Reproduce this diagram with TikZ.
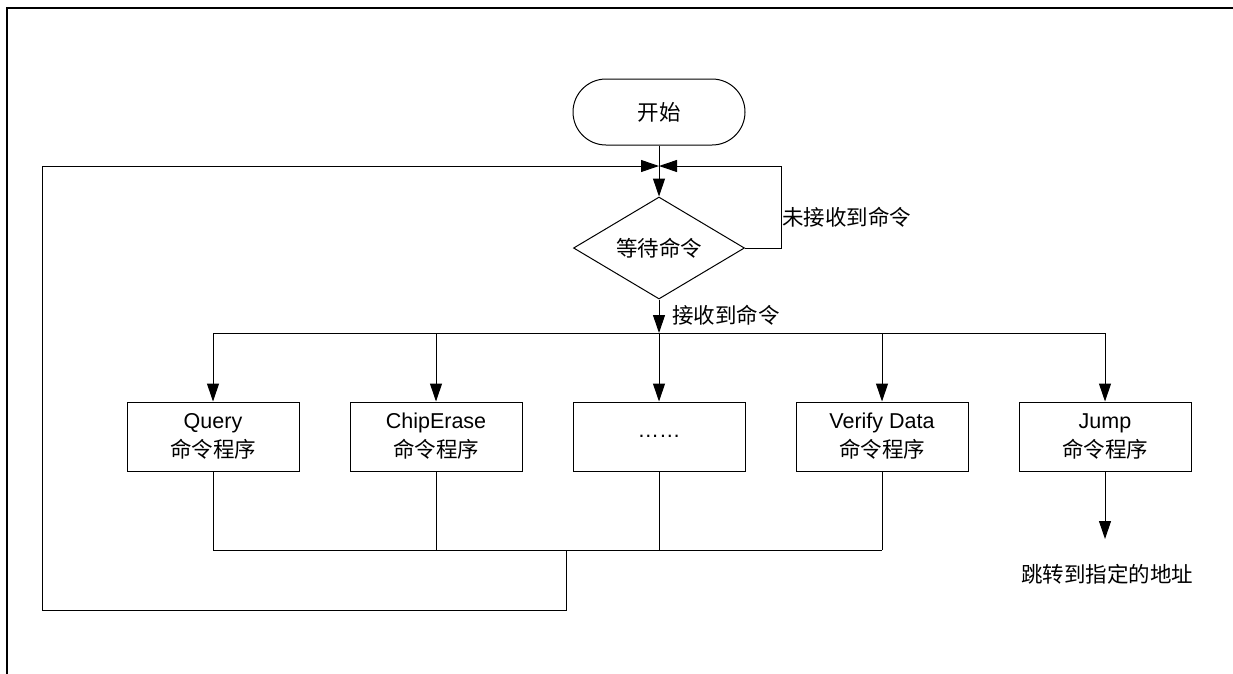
\documentclass[tikz,border=0pt]{standalone}
\usepackage{fontspec}
\setmainfont{Liberation Sans}
\newfontfamily\cjk{Noto Sans CJK SC}
\usetikzlibrary{shapes.geometric,arrows.meta,positioning}
\tikzset{
  flow/.style={line width=1pt},
  arr/.style={flow, -{Triangle[length=18pt,width=12pt]}},
  proc/.style={draw, flow, minimum width=172pt, minimum height=69pt, inner sep=0pt, align=center},
  every node/.style={font=\fontsize{21.5}{29}\selectfont}
}

\begin{document}
\begin{tikzpicture}[x=1pt, y=-1pt]
 \useasboundingbox (0,0) rectangle (1233,673);
 \draw[line width=1.3pt] (7,690) -- (7,8) -- (1250,8);
 % start and wait
 \node[draw, flow, rounded corners=33pt, minimum width=172pt, minimum height=66pt] (start) at (659,112) {\cjk 开始};
 \node[draw, flow, diamond, aspect=1.7, inner sep=0pt, minimum width=171pt, minimum height=102pt] (wait) at (659,248) {\cjk 等待命令};
 \coordinate (merge) at (659,166);
 \coordinate (bus) at (659,333);
 \coordinate (back) at (659,550);
 \coordinate (join) at (566,550);
 \coordinate (lp) at (42,610);
 \coordinate (jend) at (1105,539);
 \draw[arr] (start) -- (wait);
 \draw[arr] (wait.east) -- ++(36,0) |- (merge);
 \node[right, inner sep=0pt] (nolbl) at (782,217) {\cjk 未接收到命令};
 \draw[arr] (wait.south) -- (bus);
 \node[right, inner sep=0pt] (yeslbl) at (672,315) {\cjk 接收到命令};
 % command handlers
 \foreach \i/\x/\txt in {1/213/{Query\\{\cjk 命令程序}}, 2/436/{ChipErase\\{\cjk 命令程序}}, 3/659/{……}, 4/882/{Verify Data\\{\cjk 命令程序}}, 5/1105/{Jump\\{\cjk 命令程序}}}
  \node[proc] (b\i) at (\x,436.5) {\txt};
 \draw[flow] (b1.north |- bus) -- (b5.north |- bus);
 \foreach \i in {1,...,5} \draw[arr] (b\i.north |- bus) -- (b\i.north);
 \foreach \i in {1,...,4} \draw[flow] (b\i.south) -- (b\i.south |- back);
 \draw[flow] (b1.south |- back) -- (b4.south |- back);
 \draw[arr] (join) |- (lp) |- (merge);
 \draw[arr] (b5.south) -- (jend);
 \node (addr) at (1107,574) {\cjk 跳转到指定的地址};
\end{tikzpicture}
\end{document}
